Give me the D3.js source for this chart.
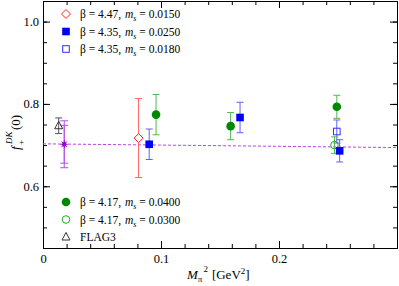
<!DOCTYPE html>
<html>
<head>
<meta charset="utf-8">
<script src="https://d3js.org/d3.v7.min.js"></script>
<style>
  body { margin: 0; background: #fff; }
  svg text { font-family: "Liberation Serif", "Times New Roman", serif; fill: #000; }
</style>
</head>
<body>
<svg id="chart" width="399" height="286"></svg>
<script>
// data
var b447_x = [0.081], b447_y = [0.717], b447_e = [0.096];
var b435a_x = [0.090, 0.167, 0.2514], b435a_y = [0.702, 0.767, 0.686], b435a_e = [0.037, 0.037, 0.027];
var b435b_x = [0.249], b435b_y = [0.733], b435b_e = [0.028];
var b417a_x = [0.0958, 0.159, 0.249], b417a_y = [0.774, 0.746, 0.793], b417a_e = [0.049, 0.033, 0.028];
var b417b_x = [0.247], b417b_y = [0.700], b417b_e = [0.020];
var flag_x = [0.0133], flag_y = [0.747], flag_e = [0.019];
var phys_x = [0.018], phys_y = [0.702], phys_eStat = [0.046], phys_eTot = [0.057];
var fit_x = [0, 0.3], fit_y = [0.703, 0.694];

var xMajor = [0, 0.1, 0.2], xLabels = ["0", "0.1", "0.2"];
var yMajor = [0.6, 0.8, 1.0], yLabels = ["0.6", "0.8", "1.0"];

var svg = d3.select("#chart");
var x = d3.scaleLinear().domain([0, 0.3]).range([43, 397]);
var y = d3.scaleLinear().domain([0.45, 1.05]).range([248, 1]);

var xMinor = d3.range(0, 0.3, 0.02), yMinor = d3.range(0.45, 1.05, 0.05);

function axisGroup(axis, tr) {
  var g = svg.append("g").attr("transform", tr).call(axis);
  g.selectAll("path,line").attr("stroke", "#000").attr("stroke-width", 1);
  g.selectAll("text").attr("font-size", 12.5).attr("font-family", "Liberation Serif, serif");
  return g;
}
// minor ticks
axisGroup(d3.axisBottom(x).tickValues(xMinor).tickSize(-4).tickSizeOuter(0).tickFormat(""), "translate(0,248)");
axisGroup(d3.axisTop(x).tickValues(xMinor).tickSize(-4).tickSizeOuter(0).tickFormat(""), "translate(0,1)");
axisGroup(d3.axisLeft(y).tickValues(yMinor).tickSize(-4).tickSizeOuter(0).tickFormat(""), "translate(43,0)");
axisGroup(d3.axisRight(y).tickValues(yMinor).tickSize(-4).tickSizeOuter(0).tickFormat(""), "translate(397,0)");
// major ticks
axisGroup(d3.axisBottom(x).tickValues(xMajor).tickSize(-7).tickSizeOuter(0).tickPadding(6)
  .tickFormat(function(d, i) { return xLabels[i]; }), "translate(0,248)");
axisGroup(d3.axisTop(x).tickValues(xMajor).tickSize(-7).tickSizeOuter(0).tickFormat(""), "translate(0,1)");
axisGroup(d3.axisLeft(y).tickValues(yMajor).tickSize(-7).tickSizeOuter(0).tickPadding(4)
  .tickFormat(function(d, i) { return yLabels[i]; }), "translate(43,0)");
axisGroup(d3.axisRight(y).tickValues(yMajor).tickSize(-7).tickSizeOuter(0).tickFormat(""), "translate(397,0)");

// fit line
svg.append("path")
  .datum(d3.zip(fit_x, fit_y))
  .attr("d", d3.line().x(function(d) { return x(d[0]); }).y(function(d) { return y(d[1]); }))
  .attr("fill", "none").attr("stroke", "#c040f0").attr("stroke-width", 1)
  .attr("stroke-dasharray", "3,2");

function errBars(xs, ys, es, color, cap) {
  xs.forEach(function(xv, i) {
    var px = x(xv), top = y(ys[i] + es[i]), bot = y(ys[i] - es[i]);
    var g = svg.append("g").attr("stroke", color).attr("stroke-width", 1);
    g.append("line").attr("x1", px).attr("x2", px).attr("y1", top).attr("y2", bot);
    g.append("line").attr("x1", px - cap).attr("x2", px + cap).attr("y1", top).attr("y2", top);
    g.append("line").attr("x1", px - cap).attr("x2", px + cap).attr("y1", bot).attr("y2", bot);
  });
}

function marker(g, type, cx, cy) {
  if (type === "diamond") {
    g.append("path").attr("d", "M" + cx + "," + (cy - 4.5) + "L" + (cx + 4.5) + "," + cy + "L" + cx + "," + (cy + 4.5) + "L" + (cx - 4.5) + "," + cy + "Z")
      .attr("fill", "#fff").attr("stroke", "#ff2020").attr("stroke-width", 1);
  } else if (type === "sqFill") {
    g.append("rect").attr("x", cx - 3.8).attr("y", cy - 3.8).attr("width", 7.6).attr("height", 7.6)
      .attr("fill", "#0000ff");
  } else if (type === "sqOpen") {
    g.append("rect").attr("x", cx - 3.3).attr("y", cy - 3.3).attr("width", 6.6).attr("height", 6.6)
      .attr("fill", "none").attr("stroke", "#3030ff").attr("stroke-width", 1);
  } else if (type === "cirFill") {
    g.append("circle").attr("cx", cx).attr("cy", cy).attr("r", 4.3).attr("fill", "#008800");
  } else if (type === "cirOpen") {
    g.append("circle").attr("cx", cx).attr("cy", cy).attr("r", 3.8).attr("fill", "none")
      .attr("stroke", "#22aa22").attr("stroke-width", 1);
  } else if (type === "tri") {
    g.append("path").attr("d", "M" + cx + "," + (cy - 4.5) + "L" + (cx + 4) + "," + (cy + 3) + "L" + (cx - 4) + "," + (cy + 3) + "Z")
      .attr("fill", "none").attr("stroke", "#333").attr("stroke-width", 1);
  } else if (type === "star") {
    var pts = [];
    for (var k = 0; k < 16; k++) {
      var r = k % 2 === 0 ? 4.5 : 1.8, a = Math.PI * k / 8;
      pts.push([cx + r * Math.sin(a), cy - r * Math.cos(a)]);
    }
    g.append("path").attr("d", "M" + pts.join("L") + "Z").attr("fill", "#9a00d0");
  }
}

function points(xs, ys, type) {
  var g = svg.append("g");
  xs.forEach(function(xv, i) { marker(g, type, x(xv), y(ys[i])); });
}

errBars(flag_x, flag_y, flag_e, "#555", 3.5);
errBars(phys_x, phys_y, phys_eTot, "#b050e8", 4);
errBars(phys_x, phys_y, phys_eStat, "#b050e8", 4);
errBars(b447_x, b447_y, b447_e, "#ff6060", 3.5);
errBars(b435a_x, b435a_y, b435a_e, "#6060ff", 3.5);
errBars(b435b_x, b435b_y, b435b_e, "#6060ff", 3.5);
errBars(b417a_x, b417a_y, b417a_e, "#50b850", 3.5);
errBars(b417b_x, b417b_y, b417b_e, "#50b850", 3.5);

points(flag_x, flag_y, "tri");
points(phys_x, phys_y, "star");
points(b447_x, b447_y, "diamond");
points(b417a_x, b417a_y, "cirFill");
points(b417b_x, b417b_y, "cirOpen");
points(b435b_x, b435b_y, "sqOpen");
points(b435a_x, b435a_y, "sqFill");

// legends
var legTop = [
  { type: "diamond", beta: "4.47", ms: "0.0150" },
  { type: "sqFill", beta: "4.35", ms: "0.0250" },
  { type: "sqOpen", beta: "4.35", ms: "0.0180" }
];
var legBot = [
  { type: "cirFill", beta: "4.17", ms: "0.0400" },
  { type: "cirOpen", beta: "4.17", ms: "0.0300" },
  { type: "tri", label: "FLAG3" }
];
function legend(items, y0) {
  items.forEach(function(it, i) {
    var cy = y0 + i * 17.5;
    var g = svg.append("g");
    marker(g, it.type, 66, cy);
    var t = svg.append("text").attr("x", 80).attr("y", cy + 4).attr("font-size", 11.5);
    if (it.label) { t.text(it.label); return; }
    t.append("tspan").text("\u03b2 = " + it.beta + ",");
    t.append("tspan").attr("x", 125).attr("font-style", "italic").text("m");
    t.append("tspan").attr("dy", 3).attr("font-size", 8).attr("font-style", "italic").text("s");
    t.append("tspan").attr("dy", -3).text(" = " + it.ms);
  });
}
legend(legTop, 14);
legend(legBot, 202);

// axis titles
var xt = svg.append("text").attr("x", 187).attr("y", 279).attr("font-size", 13);
xt.append("tspan").attr("font-style", "italic").text("M");
xt.append("tspan").attr("dy", 3).attr("font-size", 9).text("\u03c0");
xt.append("tspan").attr("dy", -10).attr("dx", 1).attr("font-size", 9).text("2");
xt.append("tspan").attr("dy", 7).attr("dx", 4).text("[GeV");
xt.append("tspan").attr("dy", -5).attr("font-size", 9).text("2");
xt.append("tspan").attr("dy", 5).text("]");

var yt = svg.append("g").attr("transform", "translate(20,150) rotate(-90)");
yt.append("text").attr("x", 0).attr("y", 0).attr("font-size", 13).attr("font-style", "italic").text("f");
yt.append("text").attr("x", 5).attr("y", 4).attr("font-size", 9).text("+");
yt.append("text").attr("x", 6).attr("y", -8).attr("font-size", 9).attr("font-style", "italic").text("DK");
yt.append("text").attr("x", 20).attr("y", 0).attr("font-size", 13).text("(0)");
</script>
</body>
</html>
